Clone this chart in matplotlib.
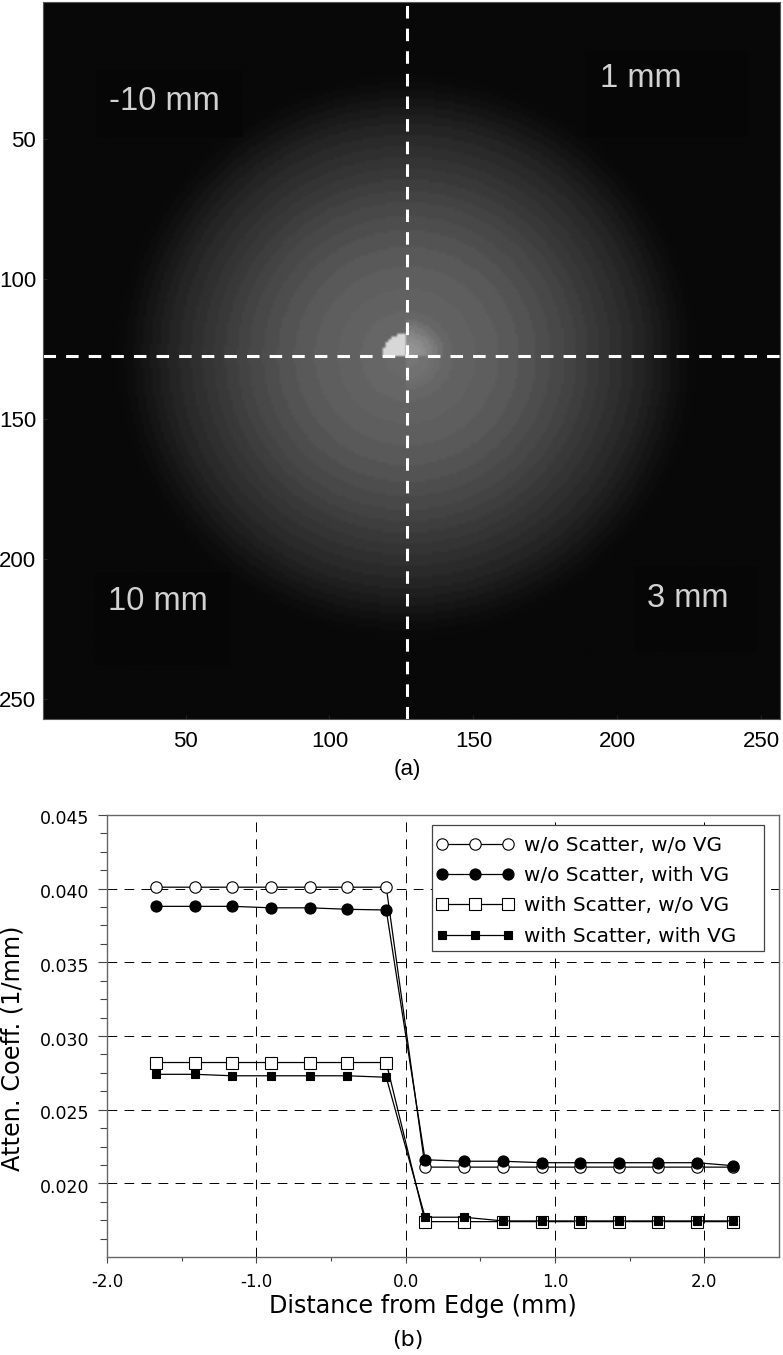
#!/usr/bin/env python3
"""Attenuation phantom slice (a) and edge profiles across the insert (b)."""
import matplotlib
import numpy as np

matplotlib.use("Agg")
import matplotlib.pyplot as plt  # noqa: E402
from matplotlib.legend_handler import HandlerLine2D  # noqa: E402
from matplotlib.lines import Line2D  # noqa: E402
from matplotlib.patches import Rectangle  # noqa: E402
from matplotlib.transforms import ScaledTranslation  # noqa: E402

W, H = 783, 1355

# (a) slice: radial grey profile
RING_EDGES = [0, 8, 16, 24, 32, 39, 45, 50, 55, 59, 63, 67, 71, 75, 79, 83, 86, 89, 92, 95, 98, 101]
RING_GREY = [105, 102, 98, 94, 89, 83, 77, 72, 67, 62, 57, 52, 47, 42, 37, 31, 26, 21, 16, 12, 9, 8]
BACKGROUND = 8
CENTRE_X, CENTRE_Y = 126.9, 127.5
BLOB_UL_R, BLOB_UL_GREY = 8.3, 215
BLOB_UR_EDGES = [0, 3, 5, 7, 9, 11, 13]
BLOB_UR_GREY = [150, 146, 140, 132, 122, 112]
BLOB_LR_EDGES = [0, 4, 8, 10, 12]
BLOB_LR_GREY = [118, 114, 110, 107]
IMG_TICKS = [50, 100, 150, 200, 250]

LABELS = ["-10 mm", "1 mm", "10 mm", "3 mm"]
LABEL_PX = [(109, 110), (600, 87), (108, 610), (647, 607)]
BOX_PX = [(96, 70, 243, 137), (585, 50, 748, 137), (95, 572, 231, 665), (635, 567, 758, 652)]

# (b) profiles
X = [-1.67, -1.41, -1.16, -0.90, -0.64, -0.39, -0.13,
     0.13, 0.39, 0.65, 0.91, 1.17, 1.43, 1.69, 1.95, 2.19]
OPEN_CIRCLE = [0.0401, 0.0401, 0.0401, 0.0401, 0.0401, 0.0401, 0.0401,
               0.0211, 0.0211, 0.0211, 0.0211, 0.0211, 0.0211, 0.0211, 0.0211, 0.0211]
FILLED_CIRCLE = [0.0388, 0.0388, 0.0388, 0.0387, 0.0387, 0.0386, 0.03855,
                 0.0216, 0.0215, 0.0215, 0.0214, 0.0214, 0.0214, 0.0214, 0.0214, 0.0212]
OPEN_SQUARE = [0.0282, 0.0282, 0.0282, 0.0282, 0.0282, 0.0282, 0.0282,
               0.0174, 0.0174, 0.0174, 0.0174, 0.0174, 0.0174, 0.0174, 0.0174, 0.0174]
FILLED_SQUARE = [0.0274, 0.0274, 0.0273, 0.0273, 0.0273, 0.0273, 0.0272,
                 0.0177, 0.0177, 0.01745, 0.01745, 0.01745, 0.01745, 0.01745, 0.01745, 0.01745]
SERIES_LABELS = ["w/o Scatter, w/o VG", "w/o Scatter, with VG",
                 "with Scatter, w/o VG", "with Scatter, with VG"]
X_TICKS = [-2.0, -1.0, 0.0, 1.0, 2.0]
Y_TICKS = [0.020, 0.025, 0.030, 0.035, 0.040, 0.045]


def rect_px(left, top, right, bottom):
    return [left / W, 1 - bottom / H, (right - left) / W, (bottom - top) / H]


def slice_image():
    yy, xx = np.mgrid[1:258, 1:257]
    dx, dy = xx - CENTRE_X, yy - CENTRE_Y
    r = np.hypot(dx, dy)
    idx = np.digitize(r, RING_EDGES) - 1
    img = np.where(idx < len(RING_GREY), np.take(RING_GREY, np.clip(idx, 0, len(RING_GREY) - 1)), BACKGROUND)
    img = img.astype(float)

    up_right = (dx >= 0) & (dy < 0)
    i = np.digitize(r, BLOB_UR_EDGES) - 1
    m = up_right & (i < len(BLOB_UR_GREY))
    img[m] = np.take(BLOB_UR_GREY, i[m])

    low_right = (dx >= 0) & (dy >= 0)
    i = np.digitize(r, BLOB_LR_EDGES) - 1
    m = low_right & (i < len(BLOB_LR_GREY))
    img[m] = np.take(BLOB_LR_GREY, i[m])

    img[(dx < 0) & (dy < 0) & (r <= BLOB_UL_R)] = BLOB_UL_GREY
    return img


def draw_slice(fig):
    ax = fig.add_axes(rect_px(43, 2, 780, 719))
    ax.imshow(slice_image(), cmap="gray", vmin=0, vmax=255, aspect="auto",
              interpolation="bilinear", extent=(0.5, 256.5, 257.5, 0.5))
    ax.set_ylim(257.1, 1.07)
    to_data = ax.transData.inverted()
    for (x0, y0, x1, y1) in BOX_PX:
        (dx0, dy0) = to_data.transform((x0, H - y0))
        (dx1, dy1) = to_data.transform((x1, H - y1))
        ax.add_patch(Rectangle((dx0, dy0), dx1 - dx0, dy1 - dy0, fc="#060606", ec="none"))
    for text, (px, py) in zip(LABELS, LABEL_PX):
        ax.text(px / W, 1 - py / H, text, transform=fig.transFigure, color="#d2d2d2", fontsize=23.5,
                family="Liberation Sans", va="baseline", ha="left")
    dash = dict(color="white", lw=2.2, dashes=(4.1, 3.3), dash_capstyle="butt")
    ax.axhline(CENTRE_Y, **dash)
    ax.axvline(CENTRE_X, **dash)
    ax.set_xticks(IMG_TICKS)
    ax.set_yticks(IMG_TICKS)
    ax.tick_params(direction="in", length=3, width=0.5, color="#303030", labelsize=16)
    ax.tick_params(axis="x", pad=8.5)
    ax.tick_params(axis="y", pad=5)
    for lab in ax.get_xticklabels() + ax.get_yticklabels():
        lab.set_family("Liberation Sans")
    for s in ax.spines.values():
        s.set_color("#555555")
        s.set_linewidth(0.8)
    fig.text(407 / W, 1 - 770 / H, "(a)", ha="center", va="center", fontsize=16, family="Liberation Sans")


def draw_profiles(fig):
    ax = fig.add_axes(rect_px(107, 815, 779, 1257))
    line = dict(color="black", lw=0.9, markeredgecolor="black", markeredgewidth=0.8)
    ax.plot(X, OPEN_CIRCLE, "o-", ms=8.2, mfc="white", label=SERIES_LABELS[0], **line)
    ax.plot(X, FILLED_CIRCLE, "o-", ms=8, mfc="black", label=SERIES_LABELS[1], **line)
    ax.plot(X, OPEN_SQUARE, "s-", ms=8.6, mfc="white", label=SERIES_LABELS[2], **line)
    ax.plot(X, FILLED_SQUARE, "s-", ms=5.8, mfc="black", label=SERIES_LABELS[3], **line)

    ax.set_xlim(-2.0, 2.5)
    ax.set_ylim(0.015, 0.045)
    ax.set_xticks(X_TICKS)
    ax.set_xticklabels([f"{v:.1f}" for v in X_TICKS])
    ax.set_yticks(Y_TICKS)
    ax.set_yticklabels([f"{v:.3f}" for v in Y_TICKS])
    ax.set_xticks([-1.5, -0.5, 0.5, 1.5], minor=True)
    ax.set_yticks(np.arange(1, 24) * 0.00125 + 0.015, minor=True)
    ax.tick_params(which="major", axis="y", length=6.5, width=0.8, color="#444444", labelsize=12.5, pad=6)
    ax.tick_params(which="major", axis="x", length=4.5, width=0.8, color="#444444", labelsize=12, pad=7)
    ax.tick_params(which="minor", axis="y", length=4.8, width=0.8, color="#444444")
    ax.tick_params(which="minor", axis="x", length=3, width=0.8, color="#444444")
    down = ScaledTranslation(0, -2.5 / 100, fig.dpi_scale_trans)
    for lab in ax.get_yticklabels():
        lab.set_transform(lab.get_transform() + down)
    ax.grid(True, which="major", color="black", lw=0.7, linestyle=(0, (10, 7.5)))
    ax.set_axisbelow(True)
    for s in ax.spines.values():
        s.set_color("#666666")
        s.set_linewidth(1.0)
    ax.set_xlabel("Distance from Edge (mm)", fontsize=17.2)
    ax.xaxis.set_label_coords((423 - 107) / 672, -(1306 - 1257) / 442)
    ax.xaxis.label.set_va("center")
    ax.set_ylabel("Atten. Coeff. (1/mm)", fontsize=17.3)
    ax.yaxis.set_label_coords((13 - 107) / 672, (1257 - 1048) / 442)
    ax.yaxis.label.set_va("center")

    # frame is separate: the original box is wider than its entries
    left, top, right, bottom = 432, 825, 764, 951
    ax.add_patch(Rectangle(((left - 107) / 672, (1257 - bottom) / 442), (right - left) / 672, (bottom - top) / 442,
                           transform=ax.transAxes, fc="white", ec="#444444", lw=0.9, zorder=4.5))
    ax.legend(loc="upper left", bbox_to_anchor=((442 - 107) / 672, (1257 - 836) / 442), borderaxespad=0,
              borderpad=0, frameon=False, fontsize=14.4, numpoints=3, handlelength=3.3, handletextpad=0.8,
              labelspacing=0.56, handler_map={Line2D: HandlerLine2D(numpoints=3, marker_pad=0)})
    fig.text(408 / W, 1 - 1340 / H, "(b)", ha="center", va="center", fontsize=16)


def main():
    fig = plt.figure(figsize=(W / 100, H / 100), dpi=100)
    draw_slice(fig)
    draw_profiles(fig)
    fig.savefig("out.png", dpi=100)
    plt.close(fig)


if __name__ == "__main__":
    main()
